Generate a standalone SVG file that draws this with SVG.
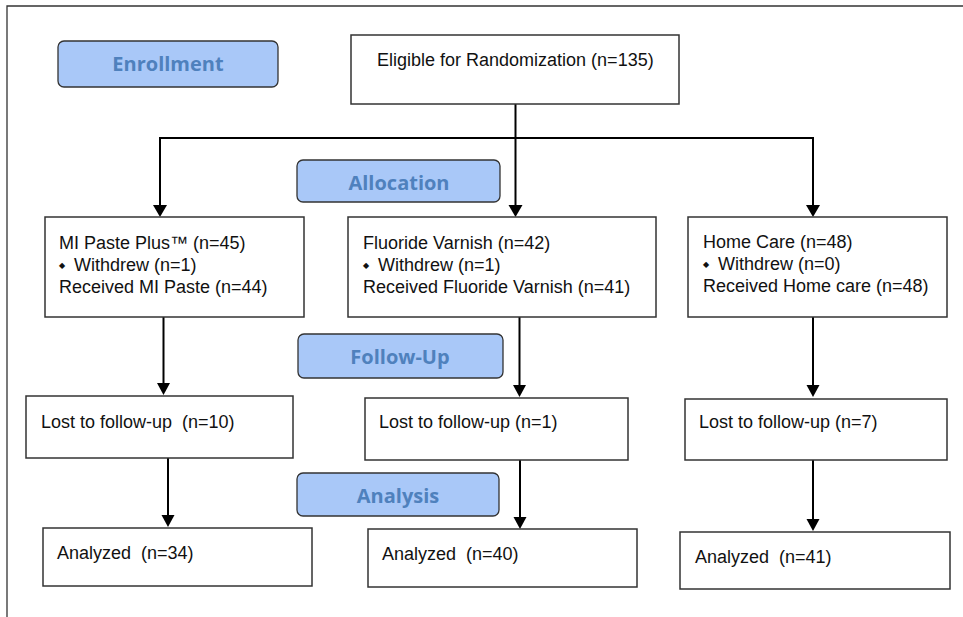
<svg xmlns="http://www.w3.org/2000/svg" width="963" height="617" viewBox="0 0 963 617">
<style>
.box{fill:#fff;stroke:#333;stroke-width:1.5}
.lbl{fill:#a9c8f8;stroke:#333;stroke-width:1.3}
.lt{font-family:"Open Sans","Liberation Sans",sans-serif;font-weight:bold;font-size:20px;fill:#4f81bd;text-anchor:middle}
.t{font-family:"Liberation Sans",Arial,sans-serif;font-size:18px;fill:#111}
.b{font-size:8px}
.cn{stroke:#000;stroke-width:2;fill:none}
.ah{fill:#000}
</style>
<rect width="963" height="617" fill="#fff"/>
<path d="M7,617 V6 H963" fill="none" stroke="#333" stroke-width="1.3"/>
<g id="connectors">
<path class="cn" d="M515.5,104 V206"/>
<path class="cn" d="M160,206 V138 H813 V206"/>
<path class="ah" d="M153,205 L167,205 L160,217 z"/>
<path class="ah" d="M806,205 L820,205 L813,217 z"/>
<path class="ah" d="M508.5,205 L522.5,205 L515.5,217 z"/>
<path class="cn" d="M163.5,317 V384"/>
<path class="ah" d="M157,383 L170,383 L163.5,395 z"/>
<path class="cn" d="M519.5,317 V386"/>
<path class="ah" d="M513,385 L526,385 L519.5,397 z"/>
<path class="cn" d="M813,317 V386"/>
<path class="ah" d="M806.5,385 L819.5,385 L813,397 z"/>
<path class="cn" d="M168,458 V516"/>
<path class="ah" d="M161.5,515 L174.5,515 L168,527 z"/>
<path class="cn" d="M520,460 V518"/>
<path class="ah" d="M513.5,517 L526.5,517 L520,529 z"/>
<path class="cn" d="M813,460 V520"/>
<path class="ah" d="M806.5,519 L819.5,519 L813,531 z"/>
</g>
<g id="enrollment"><rect class="lbl" x="58" y="41" width="220" height="46" rx="6"/><text class="lt" x="168" y="71">Enrollment</text></g>
<g id="allocation"><rect class="lbl" x="297" y="160" width="203" height="42" rx="6"/><text class="lt" x="399" y="190">Allocation</text></g>
<g id="followup"><rect class="lbl" x="298" y="334" width="205" height="44" rx="6"/><text class="lt" x="400" y="364">Follow-Up</text></g>
<g id="analysis"><rect class="lbl" x="297" y="473" width="202" height="43" rx="6"/><text class="lt" x="398" y="503">Analysis</text></g>
<g id="eligible"><rect class="box" x="351" y="35" width="328" height="69"/><text class="t" x="377" y="66">Eligible for Randomization (n=135)</text></g>
<g id="mipaste"><rect class="box" x="45" y="217" width="259" height="100"/>
<text class="t" x="59" y="249">MI Paste Plus™ (n=45)</text>
<text class="t" x="59" y="271"><tspan class="b" dy="-3">◆</tspan><tspan dy="3" dx="4"> Withdrew (n=1)</tspan></text>
<text class="t" x="59" y="293">Received MI Paste (n=44)</text></g>
<g id="fluoride"><rect class="box" x="348" y="217" width="308" height="100"/>
<text class="t" x="363" y="249">Fluoride Varnish (n=42)</text>
<text class="t" x="363" y="271"><tspan class="b" dy="-3">◆</tspan><tspan dy="3" dx="4"> Withdrew (n=1)</tspan></text>
<text class="t" x="363" y="293">Received Fluoride Varnish (n=41)</text></g>
<g id="homecare"><rect class="box" x="688" y="217" width="259" height="100"/>
<text class="t" x="703" y="248">Home Care (n=48)</text>
<text class="t" x="703" y="270"><tspan class="b" dy="-3">◆</tspan><tspan dy="3" dx="4"> Withdrew (n=0)</tspan></text>
<text class="t" x="703" y="292">Received Home care (n=48)</text></g>
<g id="lost1"><rect class="box" x="26" y="396" width="267" height="62"/><text class="t" x="41" y="428" xml:space="preserve">Lost to follow-up  (n=10)</text></g>
<g id="lost2"><rect class="box" x="365" y="398" width="263" height="62"/><text class="t" x="379" y="428">Lost to follow-up (n=1)</text></g>
<g id="lost3"><rect class="box" x="685" y="399" width="262" height="61"/><text class="t" x="699" y="428">Lost to follow-up (n=7)</text></g>
<g id="analyzed1"><rect class="box" x="43" y="528" width="269" height="58"/><text class="t" x="57" y="559" xml:space="preserve">Analyzed  (n=34)</text></g>
<g id="analyzed2"><rect class="box" x="368" y="529" width="269" height="58"/><text class="t" x="382" y="560" xml:space="preserve">Analyzed  (n=40)</text></g>
<g id="analyzed3"><rect class="box" x="680" y="532" width="270" height="57"/><text class="t" x="695" y="563" xml:space="preserve">Analyzed  (n=41)</text></g>
</svg>
